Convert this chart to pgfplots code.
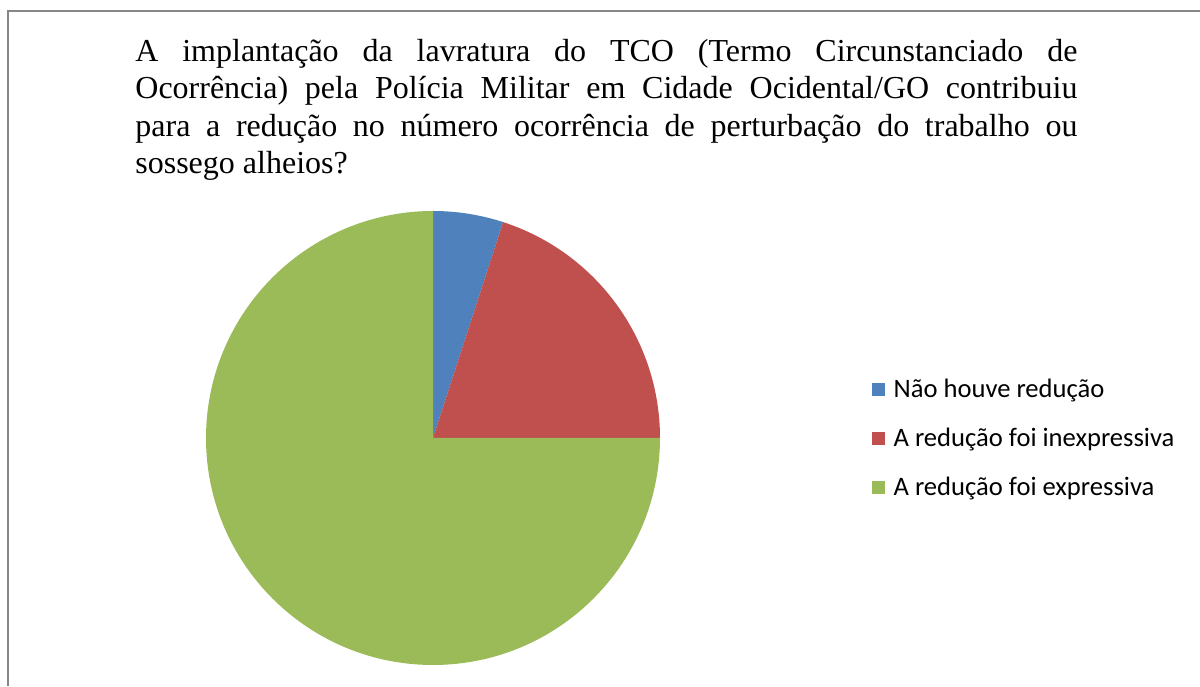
\documentclass[border=0pt]{standalone}
\usepackage{fontspec}
\setmainfont{Liberation Serif}
\newfontfamily\legfont{Carlito}
\usepackage{pgfplots}
\pgfplotsset{compat=1.18}
\definecolor{cBlue}{HTML}{4F81BD}
\definecolor{cRed}{HTML}{C0504D}
\definecolor{cGreen}{HTML}{9BBB59}
\definecolor{cFrame}{HTML}{878787}
\begin{document}
\begin{tikzpicture}
\begin{axis}[
  width=600pt, height=343pt, scale only axis,
  xmin=0, xmax=1200, ymin=0, ymax=686,
  hide axis, clip=false,
  legend style={
    at={(axis cs:872,248)}, anchor=west,
    draw=none, fill=none, inner sep=0pt, outer sep=0pt,
    font=\legfont\fontsize{13.3}{15}\selectfont,
    nodes={inner sep=0pt, text height=11pt, text depth=2.4pt},
    row sep=11.1pt, column sep=4.4pt,
  },
  legend cell align=left,
]
% frame (cropped chart border)
\draw[cFrame, line width=1pt] (axis cs:8,0) -- (axis cs:8,675) -- (axis cs:1200,675);
% pie: values (percent) 5, 20, 75; clockwise from 12 o'clock
\fill[cBlue]  (axis cs:433,248) -- ++(90:113.5pt)
  arc[start angle=90, delta angle=-3.6*5, radius=113.5pt] -- cycle;
\fill[cRed]   (axis cs:433,248) -- ++(90-3.6*5:113.5pt)
  arc[start angle=90-3.6*5, delta angle=-3.6*20, radius=113.5pt] -- cycle;
\fill[cGreen] (axis cs:433,248) -- ++(90-3.6*25:113.5pt)
  arc[start angle=90-3.6*25, delta angle=-3.6*75, radius=113.5pt] -- cycle;
% legend
\addlegendimage{legend image code/.code={\fill[cBlue] (0pt,-3pt) rectangle (6pt,3pt);}}
\addlegendentry{Não houve redução}
\addlegendimage{legend image code/.code={\fill[cRed] (0pt,-3pt) rectangle (6pt,3pt);}}
\addlegendentry{A redução foi inexpressiva}
\addlegendimage{legend image code/.code={\fill[cGreen] (0pt,-3pt) rectangle (6pt,3pt);}}
\addlegendentry{A redução foi expressiva}
% title
\node[anchor=north west, inner sep=0pt, text width=471pt, align=justify,
      font=\fontsize{16}{18.7}\selectfont]
  at (axis cs:135,647) {\hyphenpenalty=10000 A implantação da lavratura do TCO (Termo Circunstanciado de\linebreak
  Ocorrência) pela Polícia Militar em Cidade Ocidental/GO contribuiu\linebreak
  para a redução no número ocorrência de perturbação do trabalho ou\linebreak
  sossego alheios?};
\end{axis}
\pgfresetboundingbox
\path[use as bounding box] (0,0) rectangle (600pt,343pt);
\end{tikzpicture}
\end{document}
